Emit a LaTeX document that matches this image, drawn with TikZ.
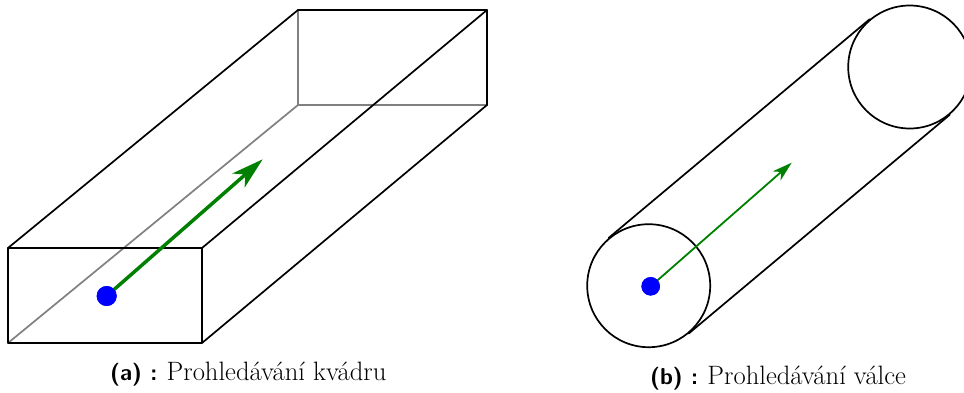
\documentclass[tikz,border=0pt]{standalone}
\usepackage{fontspec}
\usetikzlibrary{arrows.meta}
\tikzset{
  edge/.style={black,line width=1.7pt,line join=round,line cap=round},
  hidden/.style={gray,line width=1.7pt,line cap=round},
  thickarrow/.style={green!50!black,line width=3.5pt,-{Stealth[length=32pt,width=18.5pt,inset=9pt]}},
  thinarrow/.style={green!50!black,line width=1.8pt,-{Stealth[length=20pt,width=12pt,inset=6pt]}},
  startdot/.style={circle,fill=blue,inner sep=0pt},
  caption/.style={inner sep=0pt,anchor=base west,font=\fontsize{26.6}{30}\selectfont},
  ring/.style={circle,draw=black,line width=1.7pt,inner sep=0pt,minimum size=123pt}
}
\newcommand{\captag}[1]{{\fontsize{23}{30}\selectfont\sffamily\bfseries #1}\hspace{-1.5pt}}
\begin{document}
\begin{tikzpicture}[x=1pt,y=-1pt]
\useasboundingbox (0,0) rectangle (964,392);
% box
\coordinate (fbl) at (8,343);
\coordinate (fbr) at (202,343);
\coordinate (ftl) at (8,248);
\coordinate (ftr) at (202,248);
\coordinate (bbl) at (298,105);
\coordinate (bbr) at (487,105);
\coordinate (btl) at (298,10);
\coordinate (btr) at (487,10);
\draw[hidden] (fbl) -- (bbl);
\draw[hidden] (bbl) -- (btl);
\draw[hidden] (bbl) -- (bbr);
\draw[edge] (ftl) -- (ftr) -- (fbr) -- (fbl) -- cycle;
\draw[edge] (btl) -- (btr) -- (bbr);
\draw[edge] (ftl) -- (btl);
\draw[edge] (ftr) -- (btr);
\draw[edge] (fbr) -- (bbr);
\node[startdot,minimum size=20pt] (dota) at (106.7,296) {};
\coordinate (tipa) at (262.7,159.3);
\draw[thickarrow] (dota.center) -- (tipa);
\node[startdot,minimum size=20pt] at (dota.center) {};
% cylinder
\node[ring] (cfront) at (648.7,285.7) {};
\node[ring] (cback) at (909.7,67) {};
\draw[edge] (cfront.130) -- (cback.130);
\draw[edge] (cfront.-50) -- (cback.-50);
\node[startdot,minimum size=18.5pt] (dotb) at (650.7,286.3) {};
\coordinate (tipb) at (791.7,162.7);
\draw[thinarrow] (dotb.center) -- (tipb);
\node[startdot,minimum size=18.5pt] at (dotb.center) {};
% captions
\node[caption] (capa) at (110,380) {\captag{(a) :} Prohledávání kvádru};
\node[caption] (capb) at (650,384.5) {\captag{(b) :} Prohledávání válce};
\end{tikzpicture}
\end{document}
